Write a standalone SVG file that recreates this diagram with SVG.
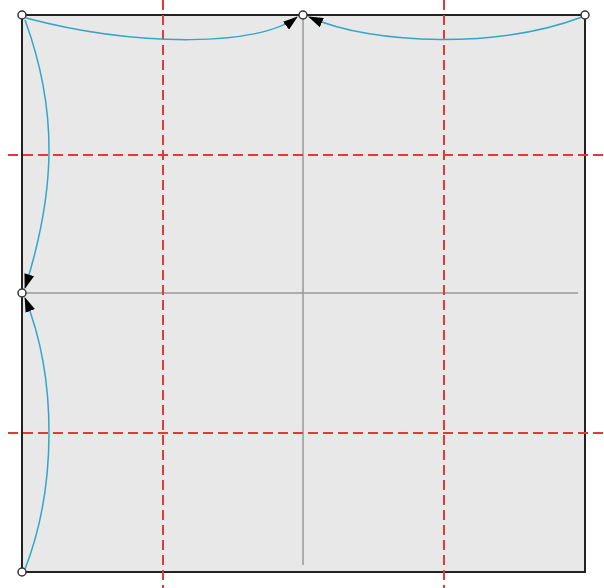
<svg xmlns="http://www.w3.org/2000/svg" width="604" height="588" viewBox="0 0 604 588">
<style>
.sq{fill:#e8e8e8;stroke:#222;stroke-width:2}
.axis{stroke:#999;stroke-width:1.5;fill:none}
.guide{stroke:#e03a3a;stroke-width:2;stroke-dasharray:10 5;fill:none}
.flow{stroke:#33a6c8;stroke-width:1.5;fill:none;marker-end:url(#ah)}
.pt{fill:#fff;stroke:#333;stroke-width:1.5}
</style>
<defs>
<marker id="ah" viewBox="0 0 15 10" refX="14" refY="5" markerWidth="15" markerHeight="10" markerUnits="userSpaceOnUse" orient="auto">
<path d="M0,0 L15,5 L0,10 Z" fill="#000"/>
</marker>
</defs>
<g id="square"><rect class="sq" x="22" y="15" width="563" height="557"/></g>
<g id="axes">
<line class="axis" x1="303" y1="15" x2="303" y2="565"/>
<line class="axis" x1="22" y1="293" x2="578" y2="293"/>
</g>
<g id="guides">
<line class="guide" x1="163" y1="0" x2="163" y2="588"/>
<line class="guide" x1="444" y1="0" x2="444" y2="588"/>
<line class="guide" x1="8" y1="155" x2="604" y2="155"/>
<line class="guide" x1="8" y1="433" x2="604" y2="433"/>
</g>
<g id="connectors">
<path class="flow" d="M26,18 C140,48 260,46 297,17"/>
<path class="flow" d="M582,17 C500,48 375,46 309,17"/>
<path class="flow" d="M25,20 C58,110 56,190 25,288"/>
<path class="flow" d="M25,569 C56,490 58,380 25,298"/>
</g>
<g id="p-tl"><circle class="pt" cx="22" cy="15" r="4"/></g>
<g id="p-tm"><circle class="pt" cx="303" cy="15" r="4"/></g>
<g id="p-tr"><circle class="pt" cx="585" cy="15" r="4"/></g>
<g id="p-ml"><circle class="pt" cx="22" cy="293" r="4"/></g>
<g id="p-bl"><circle class="pt" cx="22" cy="572" r="4"/></g>
</svg>
